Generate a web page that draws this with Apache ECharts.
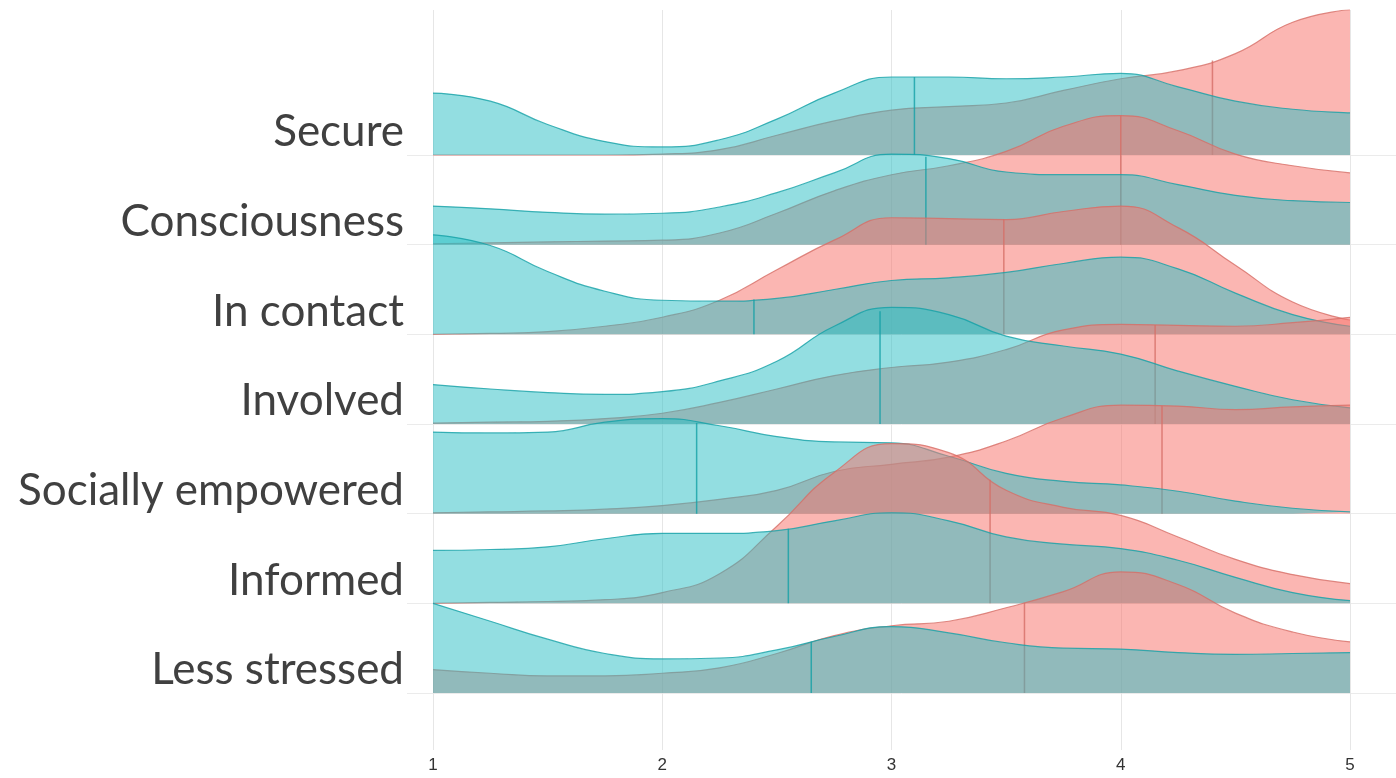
<!DOCTYPE html>
<html>
<head>
<meta charset="utf-8">
<script src="https://cdn.jsdelivr.net/npm/echarts@6/dist/echarts.min.js"></script>
<style>
html,body{margin:0;padding:0;background:#fff;}
#chart{width:1396px;height:778px;}
</style>
</head>
<body>
<div id="chart"></div>
<script>
// Row categories, top to bottom
const categories = ['Secure', 'Consciousness', 'In contact', 'Involved', 'Socially empowered', 'Informed', 'Less stressed'];
// x positions where densities were read
const xs = [1, 1.25, 1.5, 1.75, 2, 2.25, 2.5, 2.75, 3, 3.25, 3.5, 3.75, 4, 4.25, 4.5, 4.75, 5];
const xTicks = [1, 2, 3, 4, 5];

// density heights (in units of row spacing)
const secureRed = [0, 0, 0, 0, 0.01, 0.06, 0.22, 0.38, 0.50, 0.54, 0.58, 0.72, 0.85, 0.94, 1.13, 1.48, 1.62];
const secureTeal = [0.69, 0.60, 0.34, 0.15, 0.09, 0.17, 0.40, 0.69, 0.87, 0.87, 0.85, 0.87, 0.91, 0.76, 0.60, 0.51, 0.47];
const consciousnessRed = [0.01, 0.02, 0.03, 0.04, 0.05, 0.13, 0.35, 0.60, 0.78, 0.88, 1.04, 1.32, 1.44, 1.27, 1.01, 0.88, 0.80];
const consciousnessTeal = [0.43, 0.40, 0.36, 0.34, 0.35, 0.42, 0.58, 0.80, 1.01, 0.96, 0.81, 0.78, 0.78, 0.67, 0.55, 0.49, 0.47];
const inContactRed = [0, 0.01, 0.03, 0.09, 0.19, 0.38, 0.72, 1.05, 1.30, 1.29, 1.28, 1.37, 1.43, 1.19, 0.77, 0.36, 0.16];
const inContactTeal = [1.11, 0.99, 0.70, 0.48, 0.38, 0.37, 0.40, 0.50, 0.60, 0.63, 0.69, 0.79, 0.86, 0.73, 0.46, 0.22, 0.09];
const involvedRed = [0.01, 0.02, 0.03, 0.06, 0.12, 0.24, 0.39, 0.54, 0.63, 0.69, 0.83, 1.05, 1.11, 1.10, 1.09, 1.13, 1.19];
const involvedTeal = [0.44, 0.39, 0.35, 0.33, 0.36, 0.48, 0.70, 1.09, 1.30, 1.22, 0.98, 0.87, 0.78, 0.59, 0.42, 0.27, 0.18];
const sociallyRed = [0.01, 0.02, 0.03, 0.05, 0.09, 0.16, 0.26, 0.47, 0.55, 0.63, 0.81, 1.07, 1.21, 1.20, 1.16, 1.19, 1.21];
const sociallyTeal = [0.91, 0.90, 0.91, 1.02, 1.06, 0.98, 0.86, 0.80, 0.79, 0.64, 0.45, 0.36, 0.32, 0.25, 0.14, 0.06, 0.02];
const informedRed = [0, 0.01, 0.02, 0.04, 0.12, 0.33, 0.86, 1.46, 1.78, 1.68, 1.26, 1.07, 0.98, 0.74, 0.49, 0.32, 0.22];
const informedTeal = [0.59, 0.60, 0.63, 0.72, 0.78, 0.78, 0.81, 0.92, 1.01, 0.92, 0.74, 0.66, 0.61, 0.48, 0.29, 0.12, 0.03];
const lessStressedRed = [0.26, 0.22, 0.19, 0.19, 0.22, 0.28, 0.44, 0.64, 0.75, 0.80, 0.95, 1.13, 1.35, 1.21, 0.89, 0.68, 0.57];
const lessStressedTeal = [1.00, 0.80, 0.60, 0.44, 0.38, 0.39, 0.48, 0.63, 0.74, 0.67, 0.56, 0.50, 0.49, 0.45, 0.43, 0.44, 0.45];

// medians (quantile lines)
const redMedians = [4.40, 4.00, 3.49, 4.15, 4.18, 3.43, 3.58];
const tealMedians = [3.10, 3.15, 2.40, 2.95, 2.15, 2.55, 2.65];

const redRows = [secureRed, consciousnessRed, inContactRed, involvedRed, sociallyRed, informedRed, lessStressedRed];
const tealRows = [secureTeal, consciousnessTeal, inContactTeal, involvedTeal, sociallyTeal, informedTeal, lessStressedTeal];

const RED_FILL = 'rgba(248,118,109,0.53)';
const RED_LINE = 'rgba(214,110,102,0.8)';
const TEAL_FILL = 'rgba(40,190,196,0.5)';
const TEAL_LINE = 'rgba(20,160,166,0.8)';

function heightAt(vals, m) {
  for (let i = 0; i < xs.length - 1; i++) {
    if (m >= xs[i] && m <= xs[i + 1]) {
      const t = (m - xs[i]) / (xs[i + 1] - xs[i]);
      return vals[i] + t * (vals[i + 1] - vals[i]);
    }
  }
  return 0;
}

const nRows = categories.length;
const series = [];
let z = 2;
categories.forEach((name, r) => {
  const base = nRows - 1 - r;
  const pairs = [
    { vals: redRows[r], med: redMedians[r], fill: RED_FILL, line: RED_LINE },
    { vals: tealRows[r], med: tealMedians[r], fill: TEAL_FILL, line: TEAL_LINE }
  ];
  pairs.forEach(p => {
    series.push({
      type: 'line', name: name, xAxisIndex: 0, yAxisIndex: 0,
      data: xs.map((x, i) => [x, base + p.vals[i]]),
      smooth: 0.5, symbol: 'none', silent: true, z: z++,
      lineStyle: { color: p.line, width: 1.2 },
      areaStyle: { color: p.fill, opacity: 1, origin: base }
    });
    series.push({
      type: 'line', xAxisIndex: 0, yAxisIndex: 0,
      data: [[p.med, base], [p.med, base + heightAt(p.vals, p.med)]],
      symbol: 'none', silent: true, z: z++,
      lineStyle: { color: p.line, width: 1.5 }
    });
  });
});
// invisible carrier for the label grid
series.push({ type: 'line', xAxisIndex: 1, yAxisIndex: 1, data: [], silent: true });

const chart = echarts.init(document.getElementById('chart'), null, { renderer: 'canvas' });
chart.setOption({
  animation: false,
  backgroundColor: '#ffffff',
  grid: [
    { left: 433, right: 46, top: 10, bottom: 28 },
    { left: 407, right: 0, top: 155, bottom: 85 }
  ],
  xAxis: [
    {
      type: 'value', gridIndex: 0, min: xTicks[0], max: xTicks[xTicks.length - 1], interval: 1,
      axisLine: { show: false }, axisTick: { show: false },
      splitLine: { show: true, lineStyle: { color: '#e6e6e6', width: 1 } },
      axisLabel: { show: true, margin: 7, color: '#333333', fontSize: 17, fontFamily: 'Liberation Sans, Arial, sans-serif' }
    },
    {
      type: 'value', gridIndex: 1, min: 0, max: 1, show: false
    }
  ],
  yAxis: [
    {
      type: 'value', gridIndex: 0, min: -0.636, max: 7.617, show: false,
      splitLine: { show: false }
    },
    {
      type: 'value', gridIndex: 1, min: 0, max: nRows - 1, interval: 1,
      axisLine: { show: false }, axisTick: { show: false },
      splitLine: { show: true, lineStyle: { color: '#ebebeb', width: 1 } },
      axisLabel: {
        show: true, margin: 3, color: '#404040', fontSize: 44, fontFamily: 'Lato, sans-serif',
        verticalAlign: 'bottom', lineHeight: 46,
        formatter: v => categories[nRows - 1 - Math.round(v)] || ''
      }
    }
  ],
  series: series
});
</script>
</body>
</html>
